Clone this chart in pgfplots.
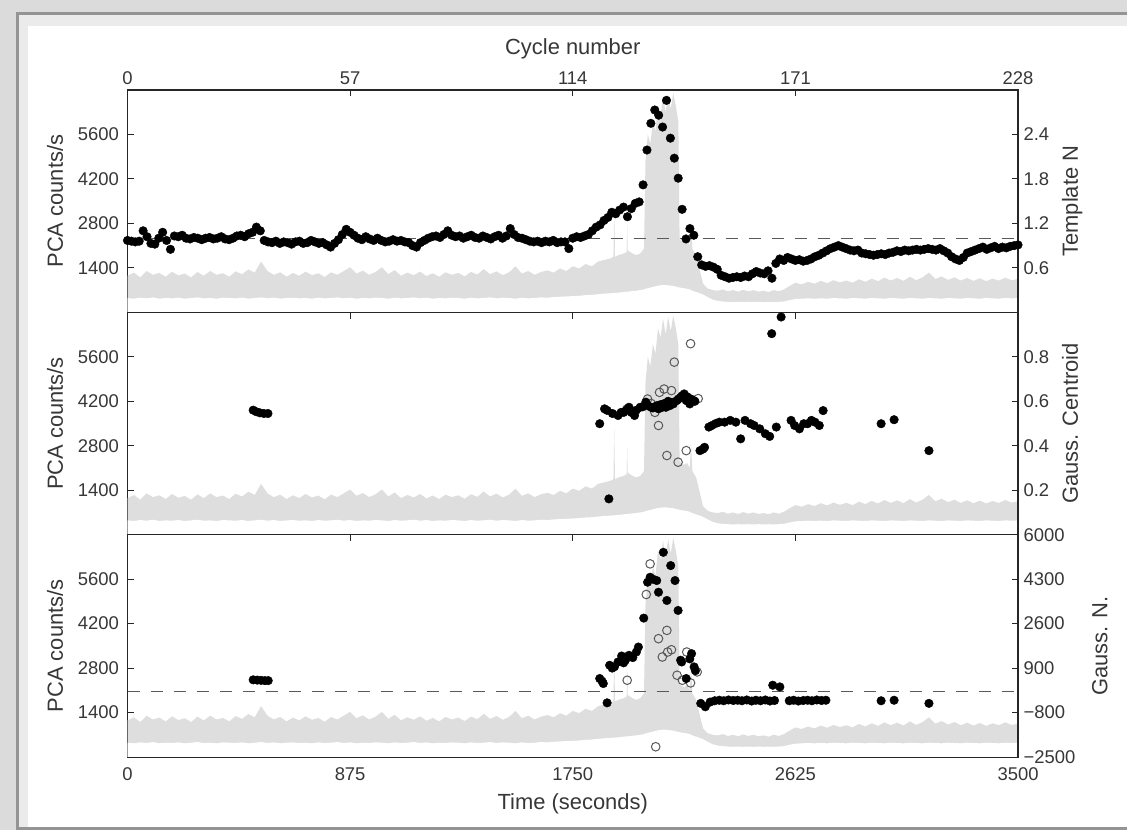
\documentclass[border=0pt]{standalone}
\usepackage{fontspec}
\setmainfont{Liberation Sans}
\usepackage{pgfplots}
\pgfplotsset{compat=1.18}
\usepackage{pgfplotstable}

% PCA light curve envelope (lower, upper) in counts/s
\pgfplotstableread{
t lo hi
0 450 1150
25 430 1250
50 460 1100
75 440 1300
100 470 1180
125 430 1240
150 450 1120
175 440 1280
200 460 1160
225 430 1220
250 450 1100
275 470 1270
300 440 1150
325 450 1300
350 430 1180
375 460 1230
400 450 1120
425 440 1290
450 460 1200
475 430 1350
500 450 1250
525 470 1600
550 440 1300
575 460 1180
600 430 1260
625 450 1120
650 460 1240
675 440 1150
700 450 1280
725 430 1170
750 460 1230
775 440 1110
800 450 1260
825 470 1180
850 440 1300
875 460 1420
900 430 1220
925 450 1310
950 440 1180
975 460 1270
1000 450 1420
1025 430 1200
1050 460 1330
1075 440 1150
1100 450 1250
1125 470 1170
1150 440 1280
1175 460 1140
1200 430 1230
1225 450 1120
1250 440 1260
1275 460 1180
1300 450 1240
1325 430 1130
1350 460 1270
1375 440 1190
1400 450 1360
1425 470 1200
1450 440 1290
1475 460 1170
1500 450 1260
1525 430 1450
1550 460 1220
1575 440 1300
1600 450 1180
1625 470 1270
1650 460 1320
1675 480 1250
1700 490 1380
1725 500 1300
1750 510 1450
1775 520 1380
1800 540 1520
1825 550 1450
1850 570 1600
1875 590 1650
1900 600 1700
1910 610 1750
1913 610 3330
1916 610 1750
1930 620 1800
1950 640 1850
1962 650 1900
1964 650 2750
1966 650 1950
1985 670 1850
2000 680 1800
2015 700 1850
2030 720 2000
2036 740 4800
2045 760 5600
2055 780 5300
2065 800 6000
2075 820 5700
2085 840 6500
2095 850 6200
2105 860 6800
2115 860 6300
2125 850 6850
2135 840 6400
2145 830 6900
2155 810 6500
2165 790 6000
2170 780 2300
2185 760 2200
2200 740 2250
2210 720 2100
2215 700 2850
2220 680 2000
2235 640 1800
2250 600 1300
2262 560 900
2280 480 750
2300 400 700
2320 360 680
2340 340 720
2360 330 660
2380 320 700
2400 330 650
2420 320 710
2440 330 660
2460 320 700
2480 330 650
2500 320 680
2520 330 640
2540 320 700
2560 330 660
2580 340 720
2600 380 820
2625 420 930
2650 430 880
2675 440 960
2700 430 900
2725 440 990
2750 430 920
2775 450 1010
2800 440 940
2825 430 1000
2850 450 930
2875 440 1040
2900 430 960
2925 450 1060
2950 440 980
2975 430 1090
3000 450 1000
3025 440 1080
3050 430 990
3075 450 1120
3100 440 1010
3125 430 1100
3150 450 1250
3175 440 1050
3200 430 1130
3225 450 1020
3250 440 1100
3275 430 1000
3300 450 1080
3325 440 990
3350 430 1070
3375 450 980
3400 440 1060
3425 430 1000
3450 450 1090
3475 440 1010
3500 450 1050
}\lc

% Template N per cycle
\pgfplotstableread{
c v
0 0.97
1 0.96
2 0.95
3 0.96
4 1.10
5 1.02
6 0.93
7 0.92
8 1.00
9 1.08
10 0.97
11 0.85
12 1.03
13 1.02
14 1.04
15 1.00
16 0.99
17 1.01
18 1.00
19 0.98
20 1.00
21 1.01
22 0.99
23 1.00
24 1.02
25 0.99
26 0.98
27 1.00
28 1.03
29 1.04
30 1.02
31 1.06
32 1.08
33 1.15
34 1.10
35 0.97
36 0.95
37 0.94
38 0.96
39 0.93
40 0.95
41 0.94
42 0.92
43 0.95
44 0.96
45 0.93
46 0.94
47 0.97
48 0.95
49 0.93
50 0.94
51 0.91
52 0.88
53 0.93
54 0.98
55 1.05
56 1.12
57 1.08
58 1.04
59 1.00
60 0.98
61 1.02
62 0.99
63 0.97
64 1.00
65 0.97
66 0.95
67 0.96
68 0.98
69 0.96
70 0.97
71 0.95
72 0.94
73 0.90
74 0.88
75 0.94
76 0.97
77 1.00
78 1.02
79 1.03
80 1.01
81 1.05
82 1.10
83 1.04
84 1.02
85 1.03
86 1.00
87 1.02
88 1.04
89 1.01
90 1.00
91 1.03
92 1.01
93 0.99
94 1.02
95 1.04
96 1.00
97 1.03
98 1.13
99 1.05
100 1.01
101 1.00
102 0.98
103 0.96
104 0.95
105 0.96
106 0.94
107 0.96
108 0.95
109 0.97
110 0.94
111 0.95
112 0.95
113 0.86
114 1.00
115 1.02
116 1.01
117 1.03
118 1.05
119 1.10
120 1.15
121 1.18
122 1.24
123 1.28
124 1.35
125 1.33
126 1.38
127 1.42
128 1.29
129 1.40
130 1.47
131 1.49
132 1.72
133 2.19
134 2.55
135 2.73
136 2.66
137 2.50
138 2.86
139 2.35
140 2.08
141 1.81
142 1.39
143 0.99
144 1.13
145 1.04
146 0.75
147 0.64
148 0.62
149 0.63
150 0.61
151 0.58
152 0.50
153 0.48
154 0.46
155 0.47
156 0.48
157 0.47
158 0.49
159 0.48
160 0.52
161 0.55
162 0.53
163 0.52
164 0.56
165 0.46
166 0.66
167 0.72
168 0.70
169 0.74
170 0.72
171 0.70
172 0.71
173 0.69
174 0.70
175 0.72
176 0.75
177 0.77
178 0.80
179 0.83
180 0.86
181 0.88
182 0.90
183 0.88
184 0.86
185 0.84
186 0.83
187 0.84
188 0.80
189 0.79
190 0.78
191 0.77
192 0.78
193 0.79
194 0.78
195 0.80
196 0.81
197 0.83
198 0.82
199 0.84
200 0.83
201 0.84
202 0.85
203 0.84
204 0.85
205 0.86
206 0.85
207 0.84
208 0.86
209 0.83
210 0.80
211 0.75
212 0.72
213 0.70
214 0.74
215 0.80
216 0.82
217 0.84
218 0.86
219 0.88
220 0.85
221 0.87
222 0.89
223 0.86
224 0.88
225 0.87
226 0.89
227 0.90
228 0.91
}\tmpl

% Gaussian centroid, filled
\pgfplotstableread{
t v
494 0.560
506 0.553
520 0.548
536 0.545
552 0.545
1856 0.499
1875 0.566
1885 0.559
1892 0.161
1906 0.545
1928 0.536
1940 0.550
1950 0.550
1960 0.560
1971 0.573
1980 0.550
1993 0.536
2000 0.560
2015 0.573
2025 0.575
2037 0.596
2045 0.580
2058 0.573
2065 0.570
2080 0.580
2087 0.566
2095 0.585
2102 0.573
2110 0.590
2116 0.573
2125 0.600
2131 0.580
2140 0.595
2145 0.588
2159 0.603
2165 0.610
2174 0.618
2180 0.625
2188 0.633
2196 0.603
2200 0.620
2210 0.588
2215 0.610
2225 0.603
2230 0.600
2250 0.378
2262 0.385
2268 0.393
2285 0.484
2297 0.491
2312 0.500
2326 0.506
2347 0.506
2369 0.514
2391 0.506
2410 0.431
2427 0.514
2449 0.499
2463 0.491
2485 0.476
2507 0.454
2524 0.442
2532 0.904
2550 0.484
2569 0.979
2608 0.514
2622 0.491
2641 0.476
2658 0.499
2673 0.499
2688 0.514
2702 0.506
2719 0.491
2734 0.558
2962 0.499
3013 0.517
3150 0.378
}\cenF

% Gaussian centroid, open
\pgfplotstableread{
t v
1964 0.566
2044 0.610
2058 0.590
2073 0.550
2087 0.491
2091 0.640
2109 0.655
2120 0.356
2138 0.648
2149 0.776
2164 0.326
2196 0.378
2213 0.859
2243 0.612
}\cenO

% Gaussian normalisation, filled
\pgfplotstableread{
t v
494 450
510 440
525 430
540 420
553 420
1856 500
1865 400
1870 309
1885 -430
1895 1007
1905 900
1914 950
1928 1133
1942 1361
1950 1100
1957 1200
1971 1388
1986 1300
2000 1514
2008 1704
2029 2810
2044 4182
2054 4372
2065 4300
2080 4246
2087 3800
2106 5325
2120 3484
2135 4818
2152 4246
2164 3103
2174 1200
2178 1133
2196 500
2210 1250
2217 1451
2227 944
2232 800
2253 -450
2271 -580
2290 -400
2308 -350
2326 -330
2343 -350
2362 -320
2381 -340
2398 -330
2415 -350
2434 -320
2453 -360
2470 -330
2488 -350
2507 -320
2525 -360
2543 -340
2536 244
2564 180
2601 -350
2618 -330
2637 -360
2656 -340
2673 -330
2690 -350
2709 -320
2728 -340
2745 -330
2962 -350
3013 -330
3150 -450
}\gnF

% Gaussian normalisation, open
\pgfplotstableread{
t v
1964 435
2039 3713
2054 4883
2076 -2108
2087 2024
2102 1323
2120 2341
2123 1514
2138 1600
2160 626
2181 435
2198 1514
2213 332
2239 752
}\gnO

\definecolor{lcgray}{RGB}{222,222,222}
\definecolor{txt}{RGB}{55,55,55}

\pgfplotsset{
  base/.style={scale only axis, width=890.5bp, height=222.33bp,
    xmin=0, xmax=3500, anchor=south west,
    tick align=inside, major tick length=6.5bp,
    axis line style={black!85, line width=1.2bp},
    tick style={black!85, line width=0.9bp},
    ticklabel style={font=\fontsize{18.5}{20}\selectfont, text=txt},
    label style={font=\fontsize{22}{25}\selectfont, text=txt},
    /pgf/number format/assume math mode=true},
  leftax/.style={base, ymin=0, ymax=7000,
    ytick={1400,2800,4200,5600}, yticklabels={1400,2800,4200,5600},
    ytick pos=left, xtick={0,875,1750,2625,3500},
    yticklabel style={xshift=-5bp},
    ylabel={PCA counts/s}, ylabel shift=8bp},
  rightax/.style={base, axis y line*=right, axis x line=none,
    tick align=inside, yticklabel style={xshift=2bp}},
  filled/.style={only marks, mark=*, mark size=4.3bp,
    mark options={draw=black, fill=black}},
  opened/.style={only marks, mark=o, mark size=4.3bp,
    mark options={draw=black!65, line width=1bp}},
  dashline/.style={black!65, line width=1bp, dash pattern=on 12bp off 11bp}
}

\newcommand{\lcband}{%
  \addplot[fill=lcgray, draw=none] table[x=t,y=hi]{\lc} \closedcycle;
  \addplot[fill=white, draw=none] table[x=t,y=lo]{\lc} \closedcycle;
}

\begin{document}
\begin{tikzpicture}
\fill[black!14] (0,0) rectangle (1127bp,830bp);
\fill[black!42] (16bp,0) rectangle (1127bp,818bp);
\fill[black!8] (19bp,3bp) rectangle (1127bp,815bp);
\fill[white] (28bp,3bp) rectangle (1127bp,804bp);

% ---------- top panel ----------
\begin{axis}[leftax, at={(127.5bp,517.67bp)},
  xticklabels={0,57,114,171,228}, xticklabel pos=upper, xtick pos=both,
  xticklabel style={yshift=2bp},
  xlabel={Cycle number}, xlabel near ticks,
  xlabel style={font=\fontsize{22}{25}\selectfont, text=txt, yshift=6bp}]
\lcband
\end{axis}
\begin{axis}[rightax, at={(127.5bp,517.67bp)}, ymin=0, ymax=3,
  ytick={0.6,1.2,1.8,2.4}, yticklabels={0.6,1.2,1.8,2.4},
  ylabel={Template N}, ylabel shift=6bp]
\addplot[dashline] coordinates {(0,1) (3500,1)};
\addplot[filled] table[x expr=\thisrow{c}*3500/228, y=v]{\tmpl};
\end{axis}

% ---------- middle panel ----------
\begin{axis}[leftax, at={(127.5bp,295.33bp)}, xticklabels={}, xtick pos=both]
\lcband
\end{axis}
\begin{axis}[rightax, at={(127.5bp,295.33bp)}, ymin=0, ymax=1,
  ytick={0.2,0.4,0.6,0.8}, yticklabels={0.2,0.4,0.6,0.8},
  ylabel={Gauss. Centroid}, ylabel shift=6bp]
\addplot[opened] table[x=t,y=v]{\cenO};
\addplot[filled] table[x=t,y=v]{\cenF};
\end{axis}

% ---------- bottom panel ----------
\begin{axis}[leftax, at={(127.5bp,73bp)},
  xticklabels={0,875,1750,2625,3500}, xtick pos=both,
  xticklabel style={yshift=-7bp},
  xlabel={Time (seconds)}, xlabel style={yshift=-6bp}]
\lcband
\end{axis}
\begin{axis}[rightax, at={(127.5bp,73bp)}, ymin=-2500, ymax=6000,
  ytick={-2500,-800,900,2600,4300,6000},
  yticklabels={−2500,−800,900,2600,4300,6000},
  ylabel={Gauss. N.}, ylabel shift=10bp]
\addplot[dashline] coordinates {(0,0) (3500,0)};
\addplot[opened] table[x=t,y=v]{\gnO};
\addplot[filled] table[x=t,y=v]{\gnF};
\end{axis}

\pgfresetboundingbox
\useasboundingbox (0,0) rectangle (1127bp,830bp);
\end{tikzpicture}
\end{document}
